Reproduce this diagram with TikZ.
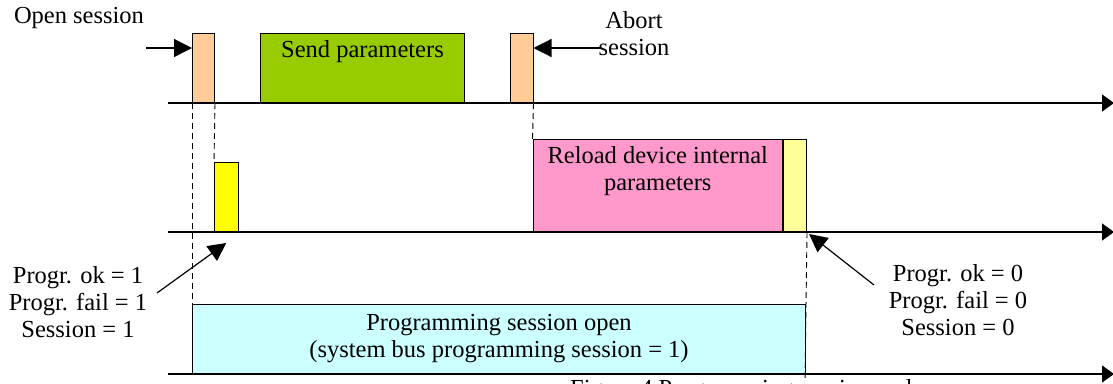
\documentclass[tikz,border=0pt]{standalone}
\usepackage{fontspec}
\setmainfont{Liberation Serif}
\usetikzlibrary{arrows.meta}

\definecolor{sessionorange}{HTML}{FFCC99}
\definecolor{sendgreen}{HTML}{99CC00}
\definecolor{flagyellow}{HTML}{FFFF00}
\definecolor{reloadpink}{HTML}{FF99CC}
\definecolor{paleyellow}{HTML}{FFFF99}
\definecolor{opencyan}{HTML}{CCFFFF}

\begin{document}
\begin{tikzpicture}[x=1pt, y=-1pt,
    every node/.style={inner sep=0pt, font=\fontsize{24.5}{27}\selectfont},
    slot/.style={draw=black, line width=1pt, anchor=south west, inner sep=0pt},
    timeline/.style={line width=1.3pt, -{Triangle[length=12pt, width=17pt]}},
    pointer/.style={line width=1.2pt, -{Triangle[length=18pt, width=18pt]}},
    guide/.style={line width=0.9pt, dash pattern=on 6pt off 4pt}]
    \useasboundingbox (0,0) rectangle (1113,383);

    % three time axes
    \coordinate (t1) at (168,103);
    \coordinate (t1end) at (1114,103);
    \coordinate (t2) at (168,232);
    \coordinate (t2end) at (1114,232);
    \coordinate (t3) at (168,374);
    \coordinate (t3end) at (1114,374);

    % top row: commands
    \node (open) [slot, fill=sessionorange, minimum width=22pt, minimum height=69pt] at (192,103) {};
    \node (send) [slot, fill=sendgreen, minimum width=204pt, minimum height=69pt,
        label={[anchor=center, yshift=-19pt]north:Send parameters}] at (260,103) {};
    \node (abort) [slot, fill=sessionorange, minimum width=23pt, minimum height=69pt] at (509.5,103) {};

    % middle row: device activity
    \node (flagset) [slot, fill=flagyellow, minimum width=23.5pt, minimum height=69pt] at (214,232) {};
    \node (reload) [slot, fill=reloadpink, minimum width=249.5pt, minimum height=92pt,
        label={[anchor=center, align=center, yshift=-32pt]north:Reload device internal\\parameters}] at (532.5,232) {};
    \node (flagclr) [slot, fill=paleyellow, minimum width=23pt, minimum height=92pt] at (reload.south east) {};

    % bottom row: session state
    \node (session) [slot, fill=opencyan, minimum width=613pt, minimum height=69pt, align=center] at (192,374) {
        Programming session open\\(system bus programming session = 1)
    };

    % labels
    \node (opentxt) at (79,18) {Open session};
    \node (aborttxt) [align=center] at (634,34) {Abort\\session};
    \node (settxt) [align=center] at (78,302) {Progr. ok = 1\\Progr. fail = 1\\Session = 1};
    \node (clrtxt) [align=center] at (958,300) {Progr. ok = 0\\Progr. fail = 0\\Session = 0};
    \node (caption) [anchor=north west] at (570,379) {Figure 4 Programming session and};

    \coordinate (openfrom) at (146,48);
    \coordinate (abortfrom) at (601,48);
    \coordinate (setfrom) at (157,293);
    \coordinate (clrfrom) at (874,285);
    \coordinate (marker) at (805,381);

    % dashed guides
    \draw[guide] (open.south west) -- (session.north west);
    \draw[guide] (open.south east) -- (flagset.north west);
    \draw[guide] (abort.south east) -- (reload.north west);
    \draw[guide] (flagclr.south east) -- (marker);

    \draw[timeline] (t1) -- (t1end);
    \draw[timeline] (t2) -- (t2end);
    \draw[timeline] (t3) -- (t3end);

    \draw[pointer] (openfrom) -- (open.west |- openfrom);
    \draw[pointer] (abortfrom) -- (abort.east |- abortfrom);
    \draw[pointer] (setfrom) -- ([yshift=-11pt]flagset.south);
    \draw[pointer] (clrfrom) -- ([shift={(2pt,-2pt)}]flagclr.south east);
\end{tikzpicture}
\end{document}
